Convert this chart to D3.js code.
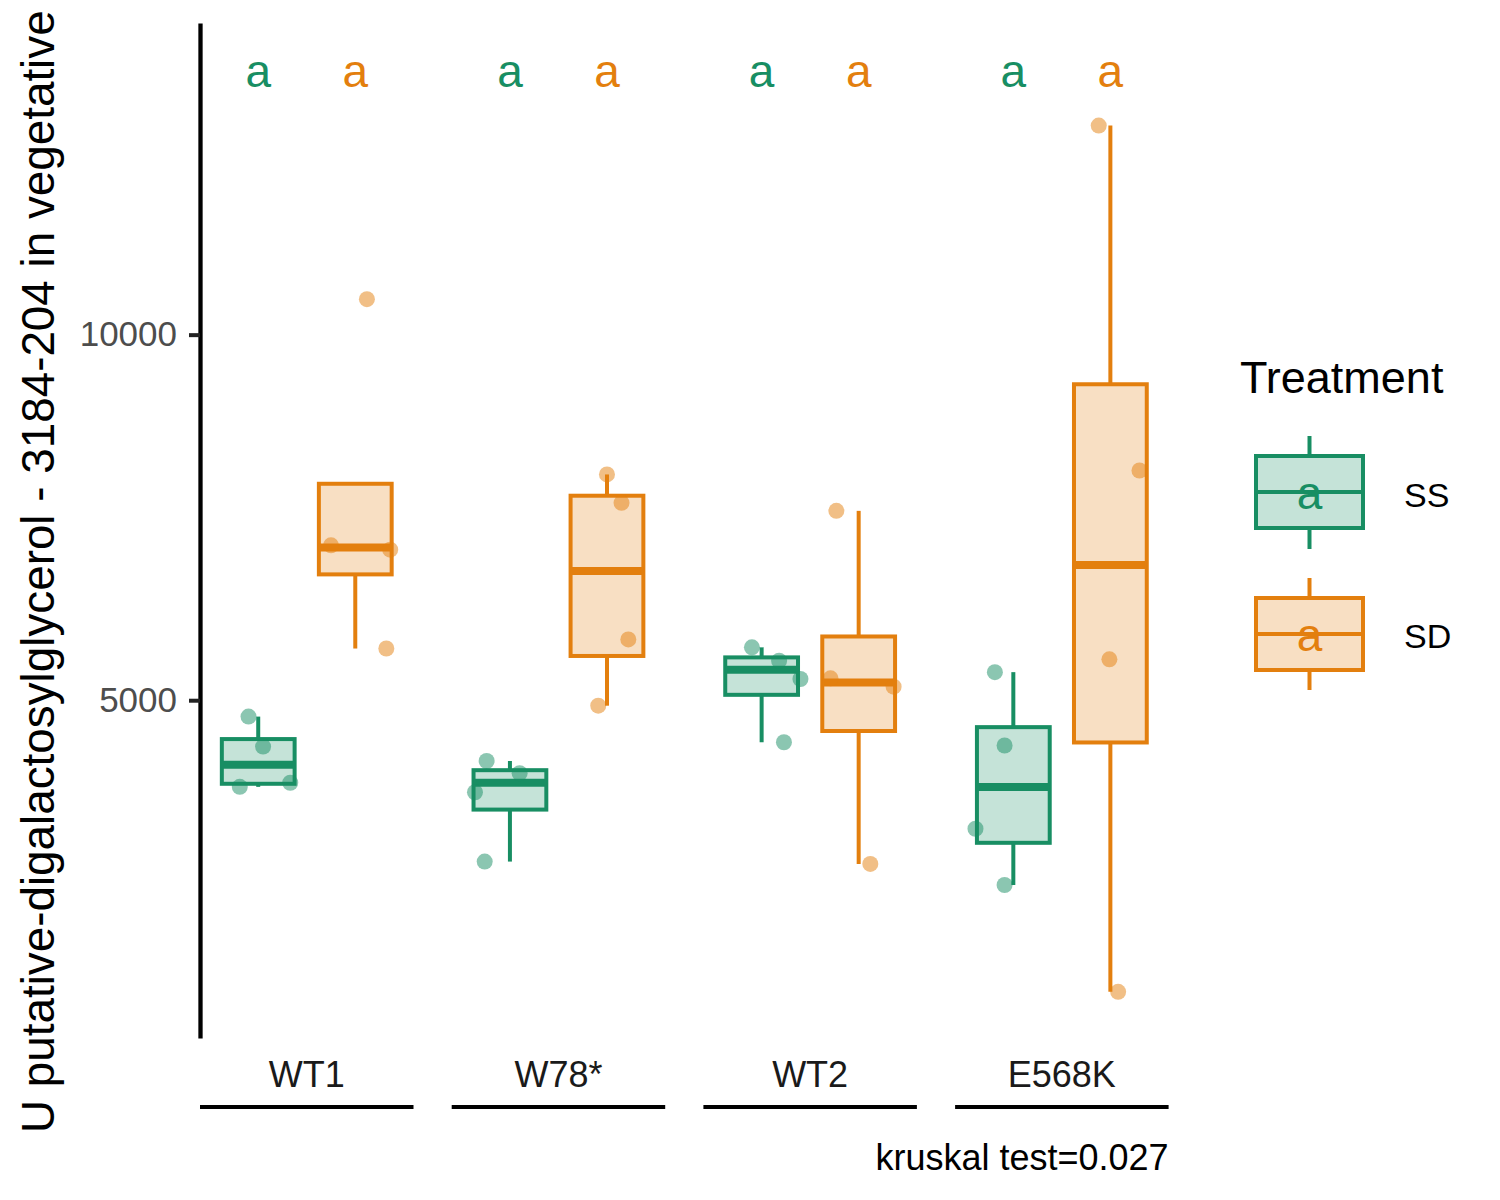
<!DOCTYPE html>
<html>
<head>
<meta charset="utf-8">
<script src="https://cdn.jsdelivr.net/npm/d3@7"></script>
<style>
  html, body { margin: 0; padding: 0; background: #fff; }
  svg { display: block; font-family: "Liberation Sans", Arial, sans-serif; }
</style>
</head>
<body>
<svg id="chart" width="1500" height="1200"></svg>
<script>
// ---------------- data ----------------
const groups = ["WT1", "W78*", "WT2", "E568K"];
const treatments = ["SS", "SD"];
const ssValues = [
  [4776, 4366, 3815, 3871],
  [4169, 4001, 3741, 2793],
  [5723, 5540, 5290, 4425],
  [5384, 4381, 3242, 2473]
];
const sdValues = [
  [10485, 7119, 7059, 5707],
  [8088, 7700, 5832, 4925],
  [7590, 5299, 5185, 2761],
  [12860, 8142, 5559, 1011]
];
// horizontal jitter of each point (fraction of one treatment step)
const ssJitter = [
  [-0.10, 0.05, -0.19, 0.33],
  [-0.24, 0.10, -0.36, -0.26],
  [-0.10, 0.18, 0.40, 0.23],
  [-0.19, -0.09, -0.39, -0.09]
];
const sdJitter = [
  [0.12, -0.25, 0.36, 0.32],
  [0.00, 0.15, 0.22, -0.09],
  [-0.23, -0.29, 0.36, 0.12],
  [-0.12, 0.30, -0.01, 0.08]
];
const ssLetters = ["a", "a", "a", "a"];
const sdLetters = ["a", "a", "a", "a"];
const yTicks = [5000, 10000];
const testLabel = "kruskal test=0.027";
const yTitle = "U putative-digalactosylglycerol - 3184-204 in vegetative";
const legendTitle = "Treatment";

// ---------------- style ----------------
const colors = { SS: "#188E63", SD: "#E37F0E" };
const panelTop = 23, panelBottom = 1038;
const panelLeft0 = 200, panelWidth = 213.5, panelStep = 251.7;

const svg = d3.select("#chart");

const allVals = ssValues.flat().concat(sdValues.flat());
const letterVal = d3.max(allVals) * 1.06;
const lo = d3.min(allVals), hi = letterVal;
const pad = (hi - lo) * 0.05;
const y = d3.scaleLinear().domain([lo - pad, hi + pad]).range([panelBottom, panelTop]);

const panelScale = d3.scaleBand().domain(groups)
  .range([panelLeft0, panelLeft0 + panelStep * groups.length]).paddingInner(0).paddingOuter(0);

function stats(vals) {
  const s = vals.slice().sort(d3.ascending);
  const q1 = d3.quantile(s, 0.25), med = d3.quantile(s, 0.5), q3 = d3.quantile(s, 0.75);
  const iqr = q3 - q1;
  const lowW = d3.min(s.filter(v => v >= q1 - 1.5 * iqr));
  const highW = d3.max(s.filter(v => v <= q3 + 1.5 * iqr));
  return { q1, med, q3, lowW: Math.min(lowW, q1), highW: Math.max(highW, q3) };
}

// y axis
const yAxis = d3.axisLeft(y).tickValues(yTicks).tickFormat(d3.format("d"))
  .tickSize(11).tickSizeOuter(0).tickPadding(12);
const yg = svg.append("g").attr("transform", `translate(${panelLeft0},0)`).call(yAxis);
yg.select(".domain").attr("stroke", "#000").attr("stroke-width", 4.3);
yg.selectAll(".tick line").attr("stroke", "#222").attr("stroke-width", 4);
yg.selectAll(".tick text").attr("fill", "#4D4D4D").attr("font-size", 35)
  .attr("font-family", "Liberation Sans, Arial, sans-serif");

const dataByTreat = { SS: ssValues, SD: sdValues };
const jitterByTreat = { SS: ssJitter, SD: sdJitter };
const lettersByTreat = { SS: ssLetters, SD: sdLetters };

groups.forEach((g, gi) => {
  const x0 = panelScale(g);
  const x = d3.scalePoint().domain(treatments).range([x0, x0 + panelWidth]).padding(0.6);
  const step = x.step();
  const boxW = step * 0.75;
  const pg = svg.append("g");

  treatments.forEach(t => {
    const vals = dataByTreat[t][gi];
    const st = stats(vals);
    const cx = x(t);
    const col = colors[t];
    // whiskers
    if (st.highW > st.q3) {
      pg.append("line").attr("x1", cx).attr("x2", cx)
        .attr("y1", y(st.q3)).attr("y2", y(st.highW))
        .attr("stroke", col).attr("stroke-width", 4);
    }
    if (st.lowW < st.q1) {
      pg.append("line").attr("x1", cx).attr("x2", cx)
        .attr("y1", y(st.q1)).attr("y2", y(st.lowW))
        .attr("stroke", col).attr("stroke-width", 4);
    }
    // box
    pg.append("rect").attr("x", cx - boxW / 2).attr("width", boxW)
      .attr("y", y(st.q3)).attr("height", y(st.q1) - y(st.q3))
      .attr("fill", col).attr("fill-opacity", 0.25)
      .attr("stroke", col).attr("stroke-width", 4);
    // median
    pg.append("line").attr("x1", cx - boxW / 2).attr("x2", cx + boxW / 2)
      .attr("y1", y(st.med)).attr("y2", y(st.med))
      .attr("stroke", col).attr("stroke-width", 8);
    // points
    pg.selectAll(null).data(vals.map((v, i) => ({ v, j: jitterByTreat[t][gi][i] })))
      .enter().append("circle")
      .attr("cx", d => cx + d.j * step)
      .attr("cy", d => y(d.v))
      .attr("r", 8)
      .attr("fill", col).attr("fill-opacity", 0.5);
    // letters
    pg.append("text").attr("x", cx).attr("y", y(letterVal)).attr("dy", "0.38em")
      .attr("text-anchor", "middle").attr("font-size", 46).attr("fill", col)
      .text(lettersByTreat[t][gi]);
  });

  // strip label and underline
  svg.append("text").attr("x", x0 + panelWidth / 2).attr("y", 1087)
    .attr("text-anchor", "middle").attr("font-size", 36).attr("fill", "#1A1A1A").text(g);
  svg.append("line").attr("x1", x0).attr("x2", x0 + panelWidth)
    .attr("y1", 1107).attr("y2", 1107).attr("stroke", "#000").attr("stroke-width", 4);
});

// caption
const lastX0 = panelScale(groups[groups.length - 1]);
svg.append("text").attr("x", lastX0 + panelWidth).attr("y", 1170)
  .attr("text-anchor", "end").attr("font-size", 36).attr("fill", "#000").text(testLabel);

// y title
svg.append("text").attr("transform", "translate(54,1133) rotate(-90)")
  .attr("text-anchor", "start").attr("font-size", 45.8).attr("fill", "#000").text(yTitle);

// legend
const lg = svg.append("g");
lg.append("text").attr("x", 1240).attr("y", 393).attr("font-size", 45).attr("fill", "#000").text(legendTitle);
const keys = [
  { t: "SS", top: 456, bottom: 528, wTop: 436, wBot: 549, label: 507 },
  { t: "SD", top: 598, bottom: 670, wTop: 578, wBot: 690, label: 648 }
];
keys.forEach((k, i) => {
  const col = colors[k.t];
  const kx0 = 1256, kx1 = 1363, kc = (kx0 + kx1) / 2, mid = (k.top + k.bottom) / 2;
  lg.append("line").attr("x1", kc).attr("x2", kc).attr("y1", k.wTop).attr("y2", k.top)
    .attr("stroke", col).attr("stroke-width", 4);
  lg.append("line").attr("x1", kc).attr("x2", kc).attr("y1", k.bottom).attr("y2", k.wBot)
    .attr("stroke", col).attr("stroke-width", 4);
  lg.append("rect").attr("x", kx0).attr("y", k.top).attr("width", kx1 - kx0).attr("height", k.bottom - k.top)
    .attr("fill", col).attr("fill-opacity", 0.25).attr("stroke", col).attr("stroke-width", 4);
  lg.append("line").attr("x1", kx0).attr("x2", kx1).attr("y1", mid).attr("y2", mid)
    .attr("stroke", col).attr("stroke-width", 4);
  lg.append("text").attr("x", kc).attr("y", mid).attr("dy", "0.38em").attr("text-anchor", "middle")
    .attr("font-size", 46).attr("fill", col).text(i === 0 ? ssLetters[0] : sdLetters[0]);
  lg.append("text").attr("x", 1404).attr("y", k.label).attr("font-size", 34).attr("fill", "#000").text(k.t);
});
</script>
</body>
</html>
